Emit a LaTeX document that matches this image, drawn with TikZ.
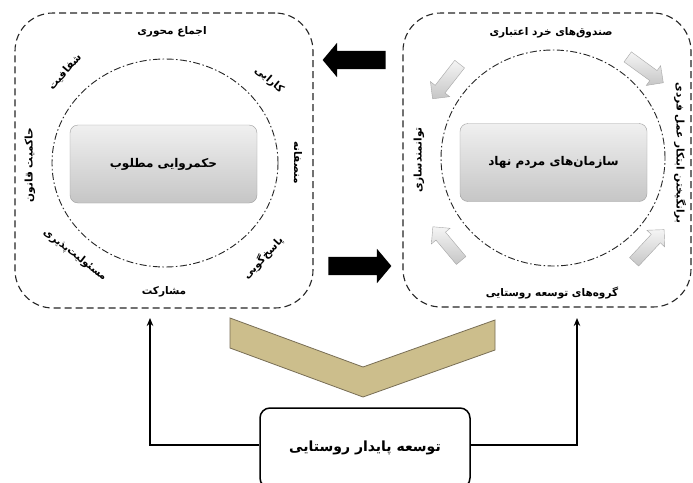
\documentclass[tikz,border=0pt]{standalone}
\usepackage{fontspec}
\usetikzlibrary{shapes.arrows,shapes.geometric,arrows.meta}
\TeXXeTstate=1
\newfontfamily\fa[Script=Arabic]{DejaVu Sans}
\newcommand{\fat}[1]{{\fa\bfseries\beginR #1\endR}}
\definecolor{khaki}{RGB}{204,190,140}
\definecolor{khakiedge}{RGB}{120,110,85}
\begin{document}
\begin{tikzpicture}[x=1pt,y=-1pt,
  panel/.style={draw=black!85, dash pattern=on 7pt off 4pt, line width=1.1pt, rounded corners=38pt, inner sep=0pt},
  ring/.style={draw=black!85, ellipse, dash pattern=on 7pt off 2.5pt on 1.5pt off 2.5pt, line width=0.9pt, inner sep=0pt},
  cbox/.style={draw=gray!75, rounded corners=8pt, top color=gray!12, bottom color=gray!45, minimum width=187pt, minimum height=78pt, inner sep=0pt, font=\fontsize{12}{14}\selectfont},
  lab/.style={inner sep=0pt, font=\fontsize{10.5}{12}\selectfont},
  basebox/.style={draw=black, line width=1.5pt, rounded corners=10pt, fill=white, minimum width=210pt, minimum height=80pt, inner sep=0pt, font=\fontsize{14}{16}\selectfont},
  barrow/.style={single arrow, fill=black, inner sep=0pt, inner ysep=9pt, single arrow head extend=8pt, single arrow tip angle=100, minimum height=63pt},
  harrow/.style={single arrow, draw=gray!70, top color=gray!8, bottom color=gray!45, inner sep=0pt, inner ysep=6pt, single arrow head extend=6pt, minimum height=44pt},
  conn/.style={draw=black, line width=1.4pt, -{Stealth[length=8pt,width=6.5pt]}}
]
\useasboundingbox (0,0) rectangle (693,482);
\fill[white] (0,0) rectangle (693,482);

% left panel
\node[panel, minimum width=298pt, minimum height=295pt] (lp) at (164,160.5) {};
\node[ring, minimum width=226pt, minimum height=208pt] (lr) at (165,163) {};
\node[cbox] (lbox) at (163.5,164) {\fat{حکمروایی مطلوب}};
\node[lab] (l1) at (172,32) {\fat{اجماع محوری}};
\node[lab, rotate=49] (l2) at (65,72) {\fat{شفافیت}};
\node[lab, rotate=-40] (l3) at (269,80) {\fat{کارایی}};
\node[lab, rotate=-90] (l4) at (298,163) {\fat{منصفانه}};
\node[lab, rotate=47] (l5) at (263,258) {\fat{پاسخ‌گویی}};
\node[lab] (l6) at (164,292) {\fat{مشارکت}};
\node[lab, rotate=-38] (l7) at (75,255) {\fat{مسئولیت‌پذیری}};
\node[lab, rotate=90] (l8) at (30,165) {\fat{حاکمیت قانون}};

% right panel
\node[panel, minimum width=288pt, minimum height=294pt] (rp) at (547,160) {};
\node[ring, minimum width=224pt, minimum height=216pt] (rr) at (553,158) {};
\node[cbox] (rbox) at (553.5,162.5) {\fat{سازمان‌های مردم نهاد}};
\node[lab] (r1) at (551,33) {\fat{صندوق‌های خرد اعتباری}};
\node[lab, rotate=-90] (r2) at (680,153) {\fat{برانگیختن ابتکار عمل فردی}};
\node[lab] (r3) at (552,293) {\fat{گروه‌های توسعه روستایی}};
\node[lab, rotate=90] (r4) at (419,160) {\fat{توانمندسازی}};

% hollow arrows
\node[harrow, rotate=232] (h1) at (448,79) {};
\node[harrow, rotate=-36] (h2) at (643,68) {};
\node[harrow, rotate=130] (h3) at (449,246) {};
\node[harrow, rotate=47] (h4) at (647,248) {};

% black arrows
\node[barrow, rotate=180] (ta) at (358,60) {};
\node[barrow] (ba) at (356,266) {};

% chevron
\draw[fill=khaki, draw=khakiedge, line width=0.8pt] (230,318) -- (363,367) -- (495,320) -- (495,350) -- (363,397) -- (230,348) -- cycle;

% base box
\node[basebox] (base) at (365,448) {\fat{توسعه پایدار روستایی}};
\coordinate (la) at (150,318);
\coordinate (ra) at (577,318);
\draw[conn] ([yshift=3pt]base.west) -| (la);
\draw[conn] ([yshift=3pt]base.east) -| (ra);
\end{tikzpicture}
\end{document}
